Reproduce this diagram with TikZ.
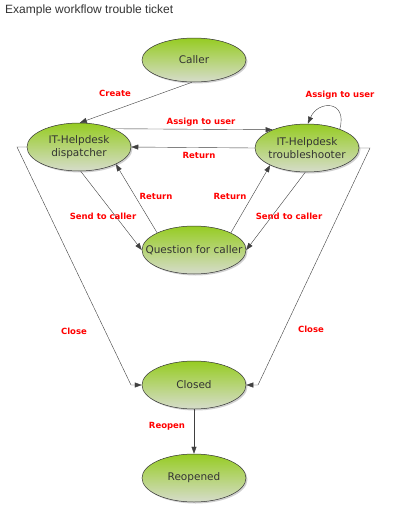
\documentclass[tikz,border=0pt]{standalone}
\usepackage{fontspec}
\setmainfont{DejaVu Sans}
\newfontfamily\titlefont{Liberation Sans}
\usetikzlibrary{shapes.geometric,arrows.meta,shadows}
\definecolor{txtgray}{HTML}{333333}
\definecolor{topgreen}{HTML}{96CC22}
\definecolor{botgreen}{HTML}{D6DCCB}
\tikzset{
  state/.style={ellipse, draw=txtgray, line width=0.5pt, minimum width=104pt, minimum height=48pt,
    inner xsep=-12pt, inner ysep=0pt,
    top color=topgreen, bottom color=botgreen, text=txtgray, align=center,
    font=\fontsize{10.5}{12.5}\selectfont,
    drop shadow={shadow xshift=1.5pt, shadow yshift=-1.5pt, opacity=0.3, fill=black!60}},
  edge/.style={draw=black!75, line width=0.4pt, -{Triangle[length=7pt,width=5pt]}},
  lbl/.style={text=red, font=\fontsize{8.5}{10}\selectfont\bfseries, inner sep=0pt}
}
\begin{document}
\begin{tikzpicture}[x=1pt,y=-1pt]
\useasboundingbox[fill=white] (0,0) rectangle (400,507);
\node[anchor=west, text=txtgray, font=\titlefont\fontsize{12}{14}\selectfont, inner sep=0pt] (title) at (5,10) {Example workflow trouble ticket};

\node[state, minimum height=44pt] (caller) at (194,60) {Caller};
\node[state] (disp) at (79,147) {IT-Helpdesk\\dispatcher};
\node[state] (ts) at (307,148) {IT-Helpdesk\\troubleshooter};
\node[state] (quest) at (194,250) {Question for caller};
\node[state] (closed) at (194,385) {Closed};
\node[state] (reop) at (194,478) {Reopened};

\coordinate (lt) at (17,147);
\coordinate (lb) at (131,385);
\coordinate (rt) at (370,148);
\coordinate (rb) at (258,385);

\draw[edge] (caller.-95) -- (disp.88);
\draw[edge] (disp.28) -- (ts.152);
\draw[edge] (ts.west) -- (disp.east);
\draw[edge] (ts.30) .. controls (348,100) and (318,100) .. (ts.88);
\draw[edge] (disp.-86) -- (quest.west);
\draw[edge] (quest.155) -- (disp.-25);
\draw[edge] (quest.25) -- (ts.-155);
\draw[edge] (ts.-94) -- (quest.east);
\draw[edge] (disp.west) -- (lt) -- (lb) -- (closed.west);
\draw[edge] (ts.east) -- (rt) -- (rb) -- (closed.east);
\draw[edge] (closed.south) -- (reop.north);

\node[lbl] (l1) at (115,93) {Create};
\node[lbl] (l2) at (340,95) {Assign to user};
\node[lbl] (l3) at (201,122) {Assign to user};
\node[lbl] (l4) at (199,155) {Return};
\node[lbl] (l5) at (156,196) {Return};
\node[lbl] (l6) at (230,196) {Return};
\node[lbl] (l7) at (103,216) {Send to caller};
\node[lbl] (l8) at (289,216) {Send to caller};
\node[lbl] (l9) at (74,331) {Close};
\node[lbl] (l10) at (311,329) {Close};
\node[lbl] (l11) at (167,426) {Reopen};
\end{tikzpicture}
\end{document}
